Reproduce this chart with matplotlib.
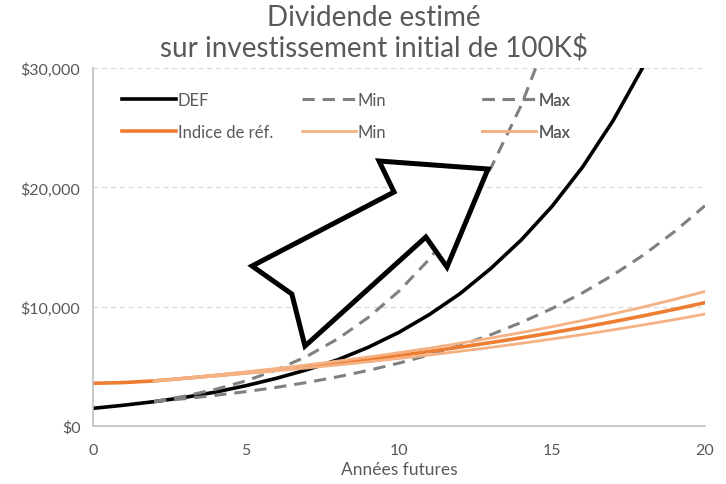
import matplotlib.pyplot as plt
from matplotlib.patches import Polygon
from matplotlib.ticker import FuncFormatter

plt.rcParams['font.family'] = ['Lato', 'DejaVu Sans']

# Données
annees = list(range(21))
annees_2 = list(range(2, 21))

def_vals = [1480, 1740, 2040, 2400, 2840, 3380, 4000, 4720, 5550, 6600, 7850,
            9350, 11100, 13200, 15600, 18400, 21700, 25600, 30200, 35600, 42000]
def_min = [2050, 2290, 2570, 2880, 3240, 3650, 4120, 4660, 5270, 5960,
           6750, 7650, 8680, 9840, 11160, 12660, 14350, 16280, 18460]
def_max = [2050, 2500, 3070, 3780, 4700, 5850, 7300, 9100, 11300, 14000,
           17400, 21600, 26900, 33500, 41500, 51500, 64000, 79000, 98000]

indice = [3580, 3640, 3780, 3997, 4227, 4470, 4727, 4999, 5286, 5590, 5911,
          6251, 6610, 6990, 7392, 7817, 8266, 8741, 9244, 9775, 10337]
indice_min = [3780, 3976, 4181, 4398, 4626, 4865, 5117, 5382, 5661, 5954,
              6262, 6586, 6927, 7285, 7663, 8060, 8477, 8916, 9378]
indice_max = [3780, 4017, 4268, 4535, 4819, 5120, 5441, 5781, 6143, 6527,
              6936, 7370, 7831, 8321, 8842, 9395, 9983, 10608, 11272]

# Flèche décorative (coordonnées des données)
fleche_x = [12.91, 9.35, 9.84, 5.20, 6.50, 6.93, 10.88, 11.57]
fleche_y = [21540, 22210, 19610, 13410, 11060, 6700, 15840, 13320]

gris_txt = '#595959'

fig = plt.figure(figsize=(7.26, 4.85), dpi=100)
ax = fig.add_axes([0.128, 0.1196, 0.843, 0.738])

l_def, = ax.plot(annees, def_vals, color='black', lw=2.6, label='DEF')
l_dmin, = ax.plot(annees_2, def_min, color='#808080', lw=2.2, ls=(0, (4, 2.6)), label='Min')
l_dmax, = ax.plot(annees_2, def_max, color='#808080', lw=2.2, ls=(0, (4, 2.6)), label='Max')
l_ind, = ax.plot(annees, indice, color='#ED7D31', lw=2.6, label='Indice de réf.')
l_imin, = ax.plot(annees_2, indice_min, color='#F4B183', lw=2.0, label='Min')
l_imax, = ax.plot(annees_2, indice_max, color='#F4B183', lw=2.0, label='Max')

fleche = Polygon(list(zip(fleche_x, fleche_y)), closed=True, facecolor='white',
                 edgecolor='black', lw=3.6, joinstyle='miter', zorder=5)
ax.add_patch(fleche)

ax.set_xlim(0, 20)
ax.set_ylim(0, 30000)
ax.set_xticks([0, 5, 10, 15, 20])
ax.set_yticks([0, 10000, 20000, 30000])
ax.yaxis.set_major_formatter(FuncFormatter(lambda v, p: f'${v:,.0f}'))
ax.tick_params(length=0, labelsize=11.5, colors=gris_txt)
ax.tick_params(axis='x', pad=12)
ax.tick_params(axis='y', pad=9)
ax.grid(axis='y', color='#D9D9D9', ls=(0, (4, 3)), lw=0.9)
ax.set_axisbelow(True)
for s in ['top', 'right']:
    ax.spines[s].set_visible(False)
ax.spines['left'].set_color('#BFBFBF')
ax.spines['bottom'].set_color('#BFBFBF')
ax.spines['left'].set_linewidth(1.2)
ax.spines['bottom'].set_linewidth(1.2)

ax.set_xlabel('Années futures', fontsize=12.5, color=gris_txt, labelpad=3)
fig.text(0.515, 0.989, 'Dividende estimé\nsur investissement initial de 100K$',
         ha='center', va='top', fontsize=20, color=gris_txt, linespacing=1.1)

# Légende en trois colonnes régulières
colonnes = [([l_def, l_ind], 0.047), ([l_dmin, l_imin], 0.341), ([l_dmax, l_imax], 0.636)]
for handles, xpos in colonnes:
    leg = ax.legend(handles=handles, loc='upper left', bbox_to_anchor=(xpos, 0.934),
                    frameon=False, fontsize=12, handlelength=3.25, handletextpad=0.12,
                    borderaxespad=0, borderpad=0, labelspacing=0.95, labelcolor=gris_txt)
    ax.add_artist(leg)

fig.savefig('out.png', dpi=100)
